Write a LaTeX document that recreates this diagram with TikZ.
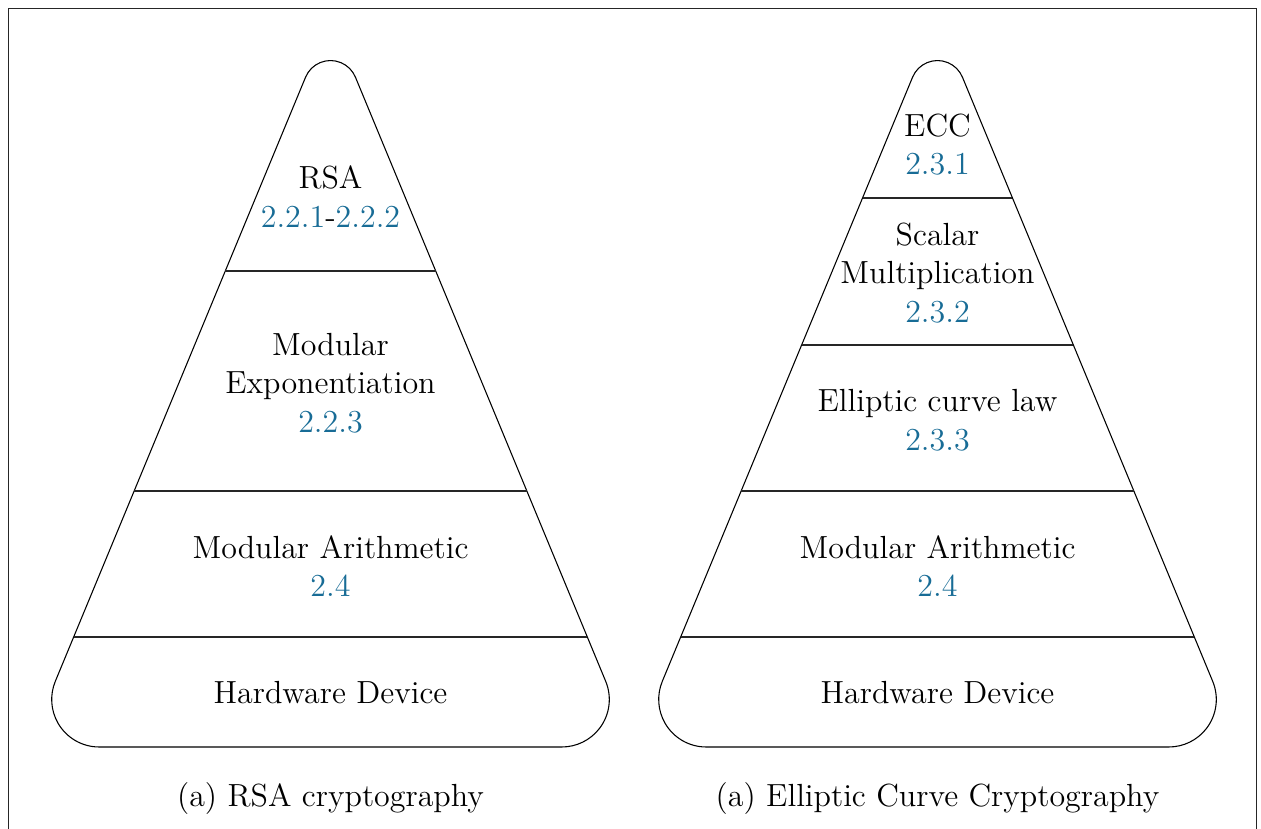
\documentclass[tikz,border=0pt]{standalone}
\definecolor{secblue}{RGB}{24,108,150}
\tikzset{
  layer/.style={font=\fontsize{12}{14.5}\selectfont, align=center, inner sep=0pt},
  caption/.style={font=\fontsize{12}{14.5}\selectfont, inner sep=0pt},
  outline/.style={draw=black, line width=0.4pt, line join=round},
  divider/.style={draw=black!85, line width=0.4pt},
}
\newcommand{\secref}[1]{\textcolor{secblue}{#1}}
% Outline of one pyramid: straight sides at 22.5 degrees, a round cap on top
% and round feet at the base (x is relative to the pyramid's axis).
\newcommand{\pyramidoutline}{%
  \draw[outline] (-24.94,77.22) arc[start angle=202.5, end angle=337.5, radius=27]
    -- (275.19,681.32) arc[start angle=-22.5, end angle=90, radius=47.5]
    -- (-231.31,747) arc[start angle=90, end angle=202.5, radius=47.5]
    -- cycle;}
\begin{document}
\begin{tikzpicture}[x=0.375pt, y=-0.375pt]
  \useasboundingbox (0,0) rectangle (1261,829);
  \begin{scope}
    \clip (0,0) rectangle (1261,829);
    \draw[line width=0.35pt, black!85] (8,8) rectangle (1256,900);
  \end{scope}

  % ---------- left pyramid: RSA ----------
  \begin{scope}[shift={(330.5,0)}]
    \pyramidoutline
    \draw[divider] (-105.21,271) -- (105.21,271);
    \draw[divider] (-196.33,491) -- (196.33,491);
    \draw[divider] (-256.80,637) -- (256.80,637);
  \end{scope}

  \node[layer] (rsa)  at (330.5,196.5) {RSA\\\secref{2.2.1}-\secref{2.2.2}};
  \node[layer] (mexp) at (330.5,383)   {Modular\\Exponentiation\\\secref{2.2.3}};
  \node[layer] (marL) at (330.5,566)   {Modular Arithmetic\\\secref{2.4}};
  \node[layer] (hwL)  at (330.5,693)   {Hardware Device};
  \node[caption] (capL) at (330.5,799) {(a) RSA cryptography};

  % ---------- right pyramid: ECC ----------
  \begin{scope}[shift={(937.5,0)}]
    \pyramidoutline
    \draw[divider] (-74.97,198) -- (74.97,198);
    \draw[divider] (-135.86,345) -- (135.86,345);
    \draw[divider] (-196.33,491) -- (196.33,491);
    \draw[divider] (-256.80,637) -- (256.80,637);
  \end{scope}

  \node[layer] (ecc)  at (937.5,144.5) {ECC\\\secref{2.3.1}};
  \node[layer] (smul) at (937.5,273)   {Scalar\\Multiplication\\\secref{2.3.2}};
  \node[layer] (ecl)  at (937.5,420)   {Elliptic curve law\\\secref{2.3.3}};
  \node[layer] (marR) at (937.5,566)   {Modular Arithmetic\\\secref{2.4}};
  \node[layer] (hwR)  at (937.5,693)   {Hardware Device};
  \node[caption] (capR) at (937.5,799) {(a) Elliptic Curve Cryptography};
\end{tikzpicture}
\end{document}
